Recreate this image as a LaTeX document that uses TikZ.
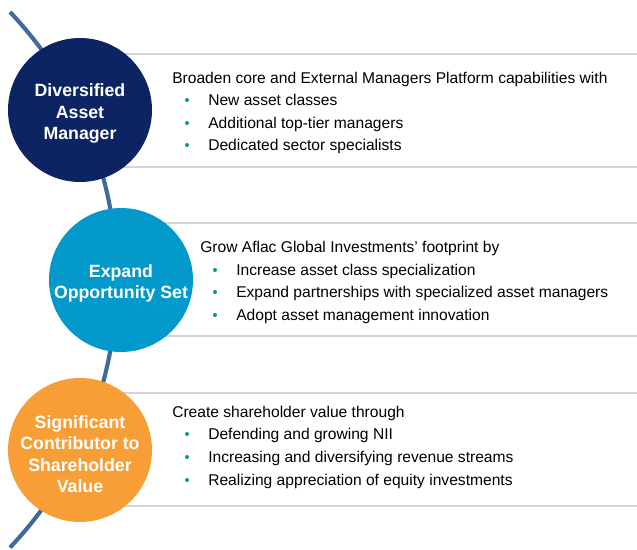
\documentclass[tikz,border=0pt]{standalone}
\usepackage{fontspec}
\setmainfont{Liberation Sans}
\definecolor{navyc}{HTML}{0C2461}
\definecolor{bluec}{HTML}{0399CA}
\definecolor{orangec}{HTML}{F79F36}
\definecolor{arcc}{HTML}{41699B}
\definecolor{rulec}{HTML}{D4D4D4}
\definecolor{bulletc}{HTML}{00A651}
\tikzset{
  bigcirc/.style={circle, inner sep=0pt, minimum size=108pt},
  circtxt/.style={inner sep=0pt, text=white, align=center,
    font=\fontsize{13.3pt}{16.1pt}\selectfont\bfseries},
  rulel/.style={draw=rulec, line width=1.2pt},
  bodytxt/.style={anchor=base west, inner sep=0pt, font=\fontsize{11.7pt}{14pt}\selectfont, text=black},
  bdot/.style={circle, fill=bulletc, inner sep=0pt, minimum size=3pt}
}
\begin{document}
\begin{tikzpicture}[x=0.75pt,y=-0.75pt]
\useasboundingbox (0,0) rectangle (637,550);
% rules
\draw[rulel] (80,54) -- (637,54);
\draw[rulel] (80,167) -- (637,167);
\draw[rulel] (121,223) -- (637,223);
\draw[rulel] (121,336) -- (637,336);
\draw[rulel] (80,393) -- (637,393);
\draw[rulel] (80,506) -- (637,506);
% arc
\coordinate (arcstart) at (10,12);
\draw[arcc, line width=3.1pt] (arcstart) arc[start angle=-43.5, end angle=43.5, radius=389];
% circles
\node[bigcirc, fill=navyc] (c1) at (80,110) {};
\node[bigcirc, fill=bluec] (c2) at (121,280) {};
\node[bigcirc, fill=orangec] (c3) at (80,450) {};
\node[circtxt] (t1) at (80,113.5) {Diversified\\Asset\\Manager};
\node[circtxt] (t2) at (121,283.5) {Expand\\Opportunity Set};
\node[circtxt] (t3) at (80,454) {Significant\\Contributor to\\Shareholder\\Value};
% section 1
\node[bodytxt] (h1) at (172,83) {Broaden core and External Managers Platform capabilities with};
\node[bodytxt] (a1) at (208,105) {New asset classes};
\node[bodytxt] (a2) at (208,128) {Additional top-tier managers};
\node[bodytxt] (a3) at (208,150) {Dedicated sector specialists};
\node[bdot] (ba1) at (187,100) {};
\node[bdot] (ba2) at (187,123) {};
\node[bdot] (ba3) at (187,145) {};
% section 2
\node[bodytxt] (h2) at (200,252) {Grow Aflac Global Investments’ footprint by};
\node[bodytxt] (b1) at (236,275) {Increase asset class specialization};
\node[bodytxt] (b2) at (236,297) {Expand partnerships with specialized asset managers};
\node[bodytxt] (b3) at (236,320) {Adopt asset management innovation};
\node[bdot] (bb1) at (215,270) {};
\node[bdot] (bb2) at (215,292) {};
\node[bdot] (bb3) at (215,315) {};
% section 3
\node[bodytxt] (h3) at (172,417) {Create shareholder value through};
\node[bodytxt] (d1) at (208,439) {Defending and growing NII};
\node[bodytxt] (d2) at (208,462) {Increasing and diversifying revenue streams};
\node[bodytxt] (d3) at (208,485) {Realizing appreciation of equity investments};
\node[bdot] (bd1) at (187,434) {};
\node[bdot] (bd2) at (187,457) {};
\node[bdot] (bd3) at (187,480) {};
\end{tikzpicture}
\end{document}
